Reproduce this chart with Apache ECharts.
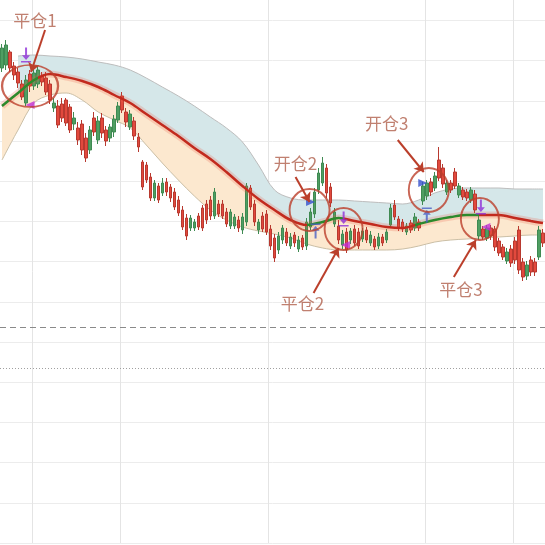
<!DOCTYPE html>
<html>
<head>
<meta charset="utf-8">
<script src="https://cdn.jsdelivr.net/npm/echarts@6/dist/echarts.min.js"></script>
<style>
    html, body { margin: 0; padding: 0; background: #fff; }
    #kline { width: 545px; height: 545px; }
</style>
</head>
<body>
<div id="kline"></div>
<script>
// 日K 开 / 收 / 低 / 高
const kOpen = [3252.5,3254,3260.5,3253.5,3250.5,3244.5,3235,3249.5,3243.5,3244.5,3248.5,3247.5,3244.5,3232.5,3233.5,3234.5,3236.5,3233,3224.5,3222.5,
    3224.5,3217.5,3211.5,3227.5,3216.5,3227.5,3221.5,3217.5,3220.5,3226.5,3238.5,3230.5,3223,3226,3218,3205.5,3204,3198,3187.5,3193.5,
    3190,3195.5,3193,3190.5,3186.5,3181.5,3177.5,3172.5,3172.5,3178.5,3182.5,3184.5,3186.5,3178.5,3184.5,3184.5,3180.5,3173.5,3173.5,3176.5,
    3171.5,3175.5,3192.5,3184.5,3171.5,3178.5,3179.5,3172,3167.5,3161.5,3166.5,3170.5,3163.5,3169,3162,3167.5,3163.5,3173,3179.5,3191.5,
    3195,3202.5,3193,3174.5,3173.5,3164,3170.5,3166.5,3172,3170.5,3167,3171.5,3165,3167,3163.5,3168,3166.5,3174,3184,3177,
    3175.5,3170.5,3175,3172.5,3175.5,3186,3188.5,3195.5,3192.5,3206.5,3202.5,3190.5,3195,3200.5,3189,3191.5,3190.5,3186.5,3189.5,3168.5,
    3172,3167.5,3172.5,3172,3166,3163,3156,3162,3166,3171.5,3155.5,3148.5,3156.5,3155.5,3158,3170];
const kClose = [3262.5,3264,3252.5,3249,3245,3238,3246.5,3243.5,3250,3251.5,3245.5,3240.5,3236.5,3235,3224,3227.5,3225,3221.5,3227.5,3216.5,
    3211.5,3207.5,3221.5,3220.5,3226,3220,3216,3223,3227,3233.5,3231.5,3225.5,3229.5,3218.5,3213,3193,3196.5,3187.5,3195,3186.5,
    3195,3190.5,3187.5,3183,3180,3173,3168.5,3177.5,3175.5,3173,3172.5,3176.5,3178.5,3190.5,3179.5,3178.5,3174.5,3180.5,3178,3172.5,
    3178,3193.5,3183,3175.5,3175.5,3172,3170.5,3163.5,3157.5,3168.5,3172.5,3165,3168,3165,3166.5,3163,3175.5,3180.5,3190.5,3200,
    3205,3190,3185,3180.5,3166.5,3169.5,3161.5,3171,3165,3163.5,3171,3166.5,3169,3163,3168,3165,3170.5,3182.5,3178,3172.5,
    3172,3173.5,3171.5,3178,3172.5,3193.5,3195,3190.5,3198.5,3197.5,3194.5,3195,3191.5,3193.5,3193.5,3188,3187.5,3191.5,3181.5,3176.5,
    3168,3172.5,3168.5,3163,3160,3158,3160.5,3155,3156.5,3151.5,3148,3154,3150.5,3150.5,3171.5,3165];
const kLow = [3250.5,3251.5,3250.5,3246.5,3242.5,3236.5,3233.5,3240.5,3241.5,3242.5,3243.5,3239,3234.5,3230.5,3222.5,3225.5,3223.5,3220,3221.5,3214,
    3209,3205.5,3209.5,3218.5,3214.5,3217.5,3213.5,3215.5,3218,3225,3230,3223,3221.5,3216.5,3210.5,3191.5,3195,3186,3186,3185,
    3188.5,3188.5,3185.5,3181.5,3178.5,3171.5,3166.5,3171,3171,3171.5,3171,3174.5,3176.5,3177,3178,3177,3173,3172,3172,3170.5,
    3169.5,3173.5,3181.5,3173.5,3169.5,3170.5,3169,3161.5,3155.5,3159.5,3164.5,3163.5,3162,3163,3160.5,3161.5,3161.5,3171.5,3177.5,3189.5,
    3193.5,3187.5,3183,3173,3164.5,3162,3160,3164.5,3163.5,3162,3165.5,3165,3163.5,3161.5,3162,3163.5,3165,3172.5,3176.5,3171,
    3170.5,3169,3170,3171,3171,3184,3186.5,3188.5,3191,3196,3192.5,3189,3190,3192,3187.5,3186.5,3186,3185,3180,3166.5,
    3166.5,3166,3166.5,3161,3158.5,3156.5,3154.5,3153,3154.5,3149.5,3146,3146.5,3148.5,3148.5,3156.5,3163];
const kHigh = [3264.5,3266.5,3261.5,3255.5,3252.5,3246.5,3249,3251.5,3252.5,3253.5,3250.5,3250.5,3246.5,3237.5,3236.5,3237.5,3237.5,3234.5,3230.5,3225.5,
    3226.5,3220,3223.5,3230.5,3228.5,3230,3223.5,3224.5,3229,3235.5,3240.5,3232.5,3231.5,3228,3220,3206.5,3205.5,3200,3196.5,3195,
    3197.5,3197.5,3194.5,3192.5,3188.5,3183.5,3179.5,3179,3177,3180,3184,3186.5,3188.5,3192.5,3186.5,3186.5,3182.5,3182,3179.5,3178.5,
    3180,3195,3194,3186.5,3177,3180.5,3181.5,3174,3169.5,3170.5,3174,3172.5,3170,3170.5,3168.5,3169,3177.5,3182.5,3192.5,3202.5,
    3208,3204.5,3195,3182.5,3176.5,3171.5,3172.5,3172.5,3174,3172.5,3172.5,3173,3171,3168.5,3170,3169.5,3172,3184.5,3186.5,3178.5,
    3177,3175,3176.5,3180,3177,3195.5,3196.5,3197.5,3200.5,3213,3204.5,3196.5,3196.5,3202.5,3195,3193,3192,3193,3191.5,3178.5,
    3173.5,3174,3174,3173.5,3167.5,3164.5,3162.5,3164,3168,3173.5,3157.5,3156,3158.5,3157.5,3173.5,3172];

// 通道: 取样位置 / 上轨 / 中轨 / 下轨
const bandAt = [0,4,8,12,16,20,24,28,32,36,40,44,48,52,56,60,64,68,72,76,80,84,88,92,96,100,104,108,112,116,120,124,128,132,135];
const bandUpper = [null,3258.5,3259,3258.5,3258,3257,3255.5,3254,3251.5,3247.5,3243,3238.5,3233.5,3228,3222.5,3215.5,3204,3191.5,3187.5,3186.5,
    3186.5,3186.5,3186,3185.5,3185,3184.5,3186.5,3190,3192,3192.5,3192.5,3192.5,3192,3192,3192];
const bandMid = [3233.5,3240,3246.5,3249.5,3248,3246,3243,3239,3235,3229.5,3224,3218.5,3212.5,3207,3200.5,3193.5,3187,3181.5,3176.5,3174,
    3175.5,3177.5,3176,3174.5,3173,3172.5,3174.5,3176.5,3178,3179,3179,3179,3177.5,3176,3175];
const bandLower = [3206.5,3221.5,3235,3239,3240,3236.5,3230.5,3226.5,3222.5,3214,3205,3196.5,3188.5,3181.5,3176.5,3173,3171,3169.5,3167.5,3164.5,
    3162.5,3161.5,3161.5,3161.5,3161.5,3162,3163.5,3165.5,3166.5,3167,3167.5,3168,3168.5,3169,3169];

// 中轨变绿的区段 (K线序号)
const greenSpans = [[-1, 8.75], [75.75, 84.5], [102.75, 119]];

// 竖向网格所在的K线序号, 两条参考线
const gridBreaks = [8, 30, 67, 106, 128];
const refDashed = 3123;
const refDotted = 3102.5;

// 标注
const notes = [
    { text: '平仓1', at: [8.25, 3276], from: [10.75, 3271.5], to: [7.25, 3250.5], ring: [7, 3243.5], size: [56, 42] },
    { text: '开仓2', at: [73.25, 3204.5], from: [73.25, 3198], to: [76.75, 3185.5], ring: [76.75, 3181.5], size: [40, 42] },
    { text: '平仓2', at: [75, 3134.5], from: [77.75, 3140], to: [84, 3162.5], ring: [85.25, 3172], size: [38, 42] },
    { text: '开仓3', at: [96, 3224.5], from: [98.75, 3216.5], to: [105.25, 3200.5], ring: [106.5, 3191.5], size: [40, 44] },
    { text: '平仓3', at: [114.5, 3141.5], from: [112.75, 3148], to: [118.25, 3166.5], ring: [119.25, 3177], size: [38, 42] }
];
const exitArrows = [[6, 3259], [85.25, 3177], [119.5, 3183]];
const exitTris = [[7, 3234], [85.75, 3164], [120.75, 3173]];
const entryTris = [[77, 3185.5], [105, 3195]];
const entryArrows = [[78.25, 3171], [106, 3179]];

const RED = '#c22a1e';
const GREEN = '#2c8a2c';
const NOTE = '#bb3f2b';

const days = kOpen.map((v, i) => String(i));
const candles = kOpen.map((o, i) => [o, kClose[i], kLow[i], kHigh[i]]);
const pair = (arr) => bandAt.map((x, i) => [x, arr[i]]);

const pieces = [];
let last = -10;
greenSpans.forEach(([a, b]) => {
    pieces.push({ gte: last, lt: a, color: RED });
    pieces.push({ gte: a, lt: b, color: GREEN });
    last = b;
});
pieces.push({ gte: last, color: RED });

const chart = echarts.init(document.getElementById('kline'));

const option = {
    animation: false,
    backgroundColor: '#fff',
    grid: { left: 0, right: 0, top: 0, bottom: 2 },
    xAxis: [
        {
            type: 'category',
            data: days,
            boundaryGap: true,
            axisLine: { show: false },
            axisTick: { show: false },
            axisLabel: { show: false },
            splitLine: {
                show: true,
                interval: (idx) => gridBreaks.includes(idx),
                lineStyle: { color: '#e4e4e4', width: 1 }
            }
        },
        { type: 'value', min: -0.5, max: 135.5, show: false }
    ],
    yAxis: {
        type: 'value',
        min: 3015,
        max: 3286.5,
        interval: 20.1,
        axisLine: { show: false },
        axisTick: { show: false },
        axisLabel: { show: false },
        splitLine: { show: true, showMaxLine: false, lineStyle: { color: '#ececec', width: 1 } }
    },
    visualMap: {
        show: false,
        type: 'piecewise',
        seriesIndex: 6,
        dimension: 0,
        pieces: pieces
    },
    series: [
        {   // 0 下轨 (堆叠底)
            type: 'line', stack: 'band', data: pair(bandLower),
            smooth: 0.35, symbol: 'none', silent: true,
            lineStyle: { opacity: 0 }, z: 1
        },
        {   // 1 中轨-下轨
            type: 'line', stack: 'band',
            data: bandAt.map((x, i) => [x, bandMid[i] - bandLower[i]]),
            smooth: 0.35, symbol: 'none', silent: true,
            lineStyle: { opacity: 0 }, areaStyle: { color: '#fce8cf', opacity: 1 }, z: 1
        },
        {   // 2 上轨-中轨
            type: 'line', stack: 'band',
            data: bandAt.map((x, i) => [x, bandUpper[i] == null ? null : bandUpper[i] - bandMid[i]]),
            smooth: 0.35, symbol: 'none', silent: true,
            lineStyle: { opacity: 0 }, areaStyle: { color: '#d5e7e9', opacity: 1 }, z: 1
        },
        {   // 3 上轨线
            type: 'line', data: pair(bandUpper), smooth: 0.35, symbol: 'none',
            lineStyle: { color: '#bdbdbd', width: 1 }, z: 2
        },
        {   // 4 下轨线
            type: 'line', data: pair(bandLower), smooth: 0.35, symbol: 'none',
            lineStyle: { color: '#cbbfa6', width: 1 }, z: 2
        },
        {   // 5 K线
            type: 'candlestick',
            data: candles,
            barWidth: 3,
            itemStyle: {
                color: '#4f9e62',
                color0: '#e2493d',
                borderColor: '#3f8a52',
                borderColor0: '#b8392f',
                borderWidth: 1
            },
            markLine: {
                silent: true,
                symbol: 'none',
                label: { show: false },
                data: [
                    { yAxis: refDashed, lineStyle: { type: [6, 4], color: '#8a8a8a', width: 1 } },
                    { yAxis: refDotted, lineStyle: { type: [1, 2], color: '#a0a0a0', width: 1 } }
                ]
            },
            z: 3
        },
        {   // 6 中轨
            type: 'line', data: pair(bandMid), smooth: 0.35, symbol: 'none',
            lineStyle: { width: 2.5 }, z: 5
        },
        {   // 7 中轨光晕
            type: 'line', data: pair(bandMid), smooth: 0.35, symbol: 'none',
            lineStyle: { color: 'rgba(235,90,70,0.22)', width: 7 }, z: 4
        },
        {   // 8 圆圈
            type: 'scatter', xAxisIndex: 1,
            data: notes.map(n => ({ value: n.ring, symbolSize: n.size })),
            symbol: 'circle',
            itemStyle: { color: 'rgba(0,0,0,0)', borderColor: NOTE, borderWidth: 2 },
            z: 8
        },
        {   // 9 箭头
            type: 'lines', coordinateSystem: 'cartesian2d', xAxisIndex: 1,
            data: notes.map(n => ({ coords: [n.from, n.to] })),
            symbol: ['none', 'arrow'],
            symbolSize: 9,
            lineStyle: { color: NOTE, width: 2, opacity: 1, curveness: 0 },
            z: 9
        },
        {   // 10 文字
            type: 'scatter', xAxisIndex: 1,
            data: notes.map(n => ({ value: n.at, name: n.text })),
            symbolSize: 1,
            itemStyle: { color: 'rgba(0,0,0,0)' },
            label: {
                show: true, position: 'inside',
                formatter: (p) => p.name,
                color: '#b0604c', fontSize: 17,
                fontFamily: 'Noto Sans CJK SC'
            },
            z: 9
        },
        {   // 11 平仓箭头
            type: 'scatter', xAxisIndex: 1, data: exitArrows,
            symbol: 'path://M4,0h2v8h3l-4,5l-4,-5h3z M0,14h10v1.5h-10z',
            symbolSize: [10, 15],
            itemStyle: { color: '#8e2fd8' }, z: 7
        },
        {   // 12 平仓三角
            type: 'scatter', xAxisIndex: 1, data: exitTris,
            symbol: 'triangle', symbolRotate: 90, symbolSize: [8, 9],
            itemStyle: { color: '#c22ed6' }, z: 7
        },
        {   // 13 开仓三角
            type: 'scatter', xAxisIndex: 1, data: entryTris,
            symbol: 'triangle', symbolRotate: -90, symbolSize: [8, 9],
            itemStyle: { color: '#3450cc' }, z: 7
        },
        {   // 14 开仓箭头
            type: 'scatter', xAxisIndex: 1, data: entryArrows,
            symbol: 'path://M0,0h10v1.5h-10z M5,2.5l4,5h-3v8h-2v-8h-3z',
            symbolSize: [10, 15],
            itemStyle: { color: '#4a5fc4' }, z: 7
        }
    ]
};

chart.setOption(option);
</script>
</body>
</html>
